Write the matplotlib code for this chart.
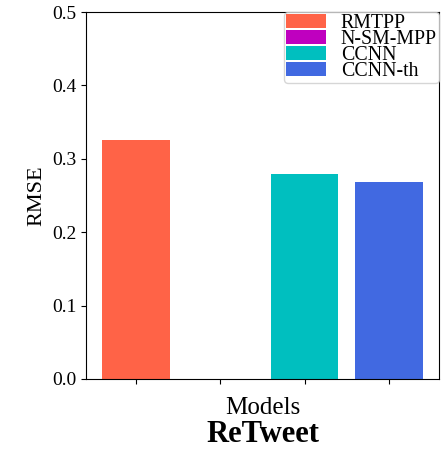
import matplotlib
matplotlib.use("Agg")
import matplotlib.pyplot as plt

plt.rcParams["font.family"] = ["Liberation Serif", "DejaVu Serif"]

models = ["RMTPP", "N-SM-MPP", "CCNN", "CCNN-th"]
rmse = [0.326, 0.0, 0.279, 0.268]
colors = ["tomato", "m", "c", "royalblue"]
yticks = [0.0, 0.1, 0.2, 0.3, 0.4, 0.5]

fig = plt.figure(figsize=(4.46, 4.5), dpi=100)
ax = fig.add_axes([0.193, 0.158, 0.791, 0.815])

for i, (name, val, col) in enumerate(zip(models, rmse, colors)):
    ax.bar(i, val, width=0.8, color=col, label=name)

ax.set_ylim(0, 0.5)
ax.set_yticks(yticks)
ax.set_yticklabels([f"{t:.1f}" for t in yticks], fontsize=14)
ax.set_xticks(range(len(models)))
ax.set_xticklabels([])
ax.set_ylabel("RMSE", fontsize=16)
ax.set_xlabel("Models", fontsize=18, labelpad=6)
ax.text(0.5, -0.172, "ReTweet", transform=ax.transAxes, ha="center",
        va="baseline", fontsize=22, fontweight="bold")

ax.legend(loc="upper right", fontsize=14.3, handlelength=2.0, labelspacing=-0.15,
          borderaxespad=0.0, borderpad=0.1, handletextpad=0.75, fancybox=True)

fig.savefig("out.png", dpi=100)
